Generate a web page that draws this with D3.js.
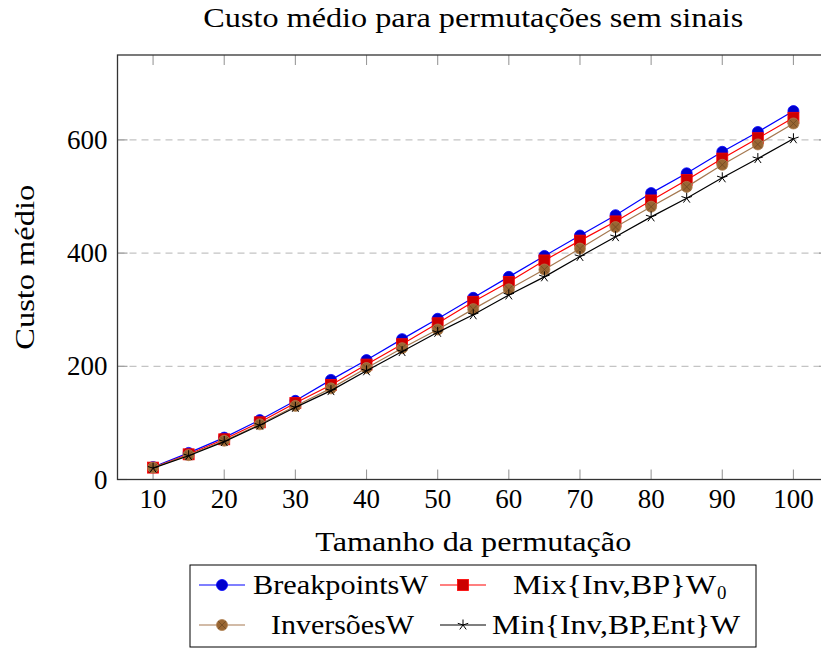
<!DOCTYPE html>
<html>
<head>
<meta charset="utf-8">
<script src="https://cdn.jsdelivr.net/npm/d3@7"></script>
<style>
  html, body { margin: 0; padding: 0; background: #fff; }
  text { font-family: "Liberation Serif", "DejaVu Serif", serif; fill: #000; }
</style>
</head>
<body>
<svg id="chart" width="821" height="651"></svg>
<script>
// Permutation sizes (x axis)
const sizes = [10, 15, 20, 25, 30, 35, 40, 45, 50, 55, 60, 65, 70, 75, 80, 85, 90, 95, 100];

// Average cost per algorithm
const breakpointsW = [22, 47, 74, 105, 139, 176, 211, 248, 284, 321, 358, 395, 431, 467, 506, 541, 579, 614, 651];
const mixInvBpW0   = [21, 44.5, 71, 101, 135, 167, 203, 239, 276, 314, 349, 387, 422, 456, 493, 529, 567, 603, 639];
const inversoesW   = [21, 43, 68.5, 97.5, 130, 161, 197, 232, 265, 301, 336, 371, 408, 446, 482, 517, 556, 592, 629];
const minInvBpEntW = [20, 42, 67, 96, 127.5, 157, 192, 226, 260, 291, 326, 358, 394, 429, 464, 497, 533, 567, 602];

// Tick labels
const xTicks = [10, 20, 30, 40, 50, 60, 70, 80, 90, 100];
const yTicks = [0, 200, 400, 600];

const title = "Custo médio para permutações sem sinais";
const xLabel = "Tamanho da permutação";
const yLabel = "Custo médio";

const series = [
  { name: "BreakpointsW", values: breakpointsW, line: "#0000ff", fill: "#0000cc", mark: "circle", tx: 253, tw: 175 },
  { name: "Mix{Inv,BP}W", sub: "0", values: mixInvBpW0, line: "#ff0000", fill: "#cc0000", mark: "square", tx: 513, tw: 203 },
  { name: "InversõesW", values: inversoesW, line: "#a57850", fill: "#996633", mark: "otimes", tx: 271, tw: 143 },
  { name: "Min{Inv,BP,Ent}W", values: minInvBpEntW, line: "#000000", fill: "#000000", mark: "star", tx: 492, tw: 248 }
];

const svg = d3.select("#chart");
const plot = { left: 117.5, right: 829, top: 55, bottom: 479.5 };

const x = d3.scaleLinear().domain([5, 105]).range([plot.left, plot.right]);
const y = d3.scaleLinear().domain([0, 750]).range([plot.bottom, plot.top]);

const fontSize = 27;

// Dashed horizontal grid
svg.append("g").selectAll("line")
  .data(yTicks.filter(d => d > 0))
  .join("line")
  .attr("x1", plot.left).attr("x2", plot.right)
  .attr("y1", d => y(d)).attr("y2", d => y(d))
  .attr("stroke", "#c4c4c4").attr("stroke-width", 1.2)
  .attr("stroke-dasharray", "7,5");

// Inner ticks on bottom, top and left
const tickLen = 10;
const tickColor = "#9a9a9a";
const tg = svg.append("g").attr("stroke", tickColor).attr("stroke-width", 1.1);
xTicks.forEach(t => {
  tg.append("line").attr("x1", x(t)).attr("x2", x(t)).attr("y1", plot.bottom).attr("y2", plot.bottom - tickLen);
  tg.append("line").attr("x1", x(t)).attr("x2", x(t)).attr("y1", plot.top).attr("y2", plot.top + tickLen);
});
yTicks.forEach(t => {
  tg.append("line").attr("x1", plot.left).attr("x2", plot.left + tickLen).attr("y1", y(t)).attr("y2", y(t));
  tg.append("line").attr("x1", plot.right).attr("x2", plot.right - tickLen).attr("y1", y(t)).attr("y2", y(t));
});

// Frame
svg.append("rect")
  .attr("x", plot.left).attr("y", plot.top)
  .attr("width", plot.right - plot.left).attr("height", plot.bottom - plot.top)
  .attr("fill", "none").attr("stroke", "#333").attr("stroke-width", 1.3);

// Tick labels
svg.append("g").selectAll("text")
  .data(xTicks).join("text")
  .attr("x", d => x(d)).attr("y", plot.bottom + 28)
  .attr("text-anchor", "middle").attr("font-size", fontSize)
  .text(d => d);

svg.append("g").selectAll("text")
  .data(yTicks).join("text")
  .attr("x", plot.left - 10).attr("y", d => y(d) + 9)
  .attr("text-anchor", "end").attr("font-size", fontSize)
  .text(d => d);

// Title and axis labels
svg.append("text")
  .attr("x", (plot.left + plot.right) / 2).attr("y", 27)
  .attr("text-anchor", "middle").attr("font-size", fontSize)
  .attr("textLength", 540).attr("lengthAdjust", "spacingAndGlyphs")
  .text(title);

svg.append("text")
  .attr("x", (plot.left + plot.right) / 2).attr("y", 551)
  .attr("text-anchor", "middle").attr("font-size", fontSize)
  .attr("textLength", 316).attr("lengthAdjust", "spacingAndGlyphs")
  .text(xLabel);

svg.append("text")
  .attr("transform", `translate(34, ${(plot.top + plot.bottom) / 2}) rotate(-90)`)
  .attr("text-anchor", "middle").attr("font-size", fontSize)
  .attr("textLength", 165).attr("lengthAdjust", "spacingAndGlyphs")
  .text(yLabel);

// Marker drawing
function drawMark(g, s, cx, cy) {
  const r = 5.5;
  if (s.mark === "circle") {
    g.append("circle").attr("cx", cx).attr("cy", cy).attr("r", r)
      .attr("fill", s.fill).attr("stroke", s.line).attr("stroke-width", 0.8);
  } else if (s.mark === "square") {
    g.append("rect").attr("x", cx - r).attr("y", cy - r).attr("width", 2 * r).attr("height", 2 * r)
      .attr("fill", s.fill).attr("stroke", s.line).attr("stroke-width", 0.8);
  } else if (s.mark === "otimes") {
    g.append("circle").attr("cx", cx).attr("cy", cy).attr("r", r)
      .attr("fill", s.fill).attr("stroke", "#b08050").attr("stroke-width", 0.8);
    const d = r * Math.SQRT1_2;
    g.append("path")
      .attr("d", `M${cx - d},${cy - d}L${cx + d},${cy + d}M${cx - d},${cy + d}L${cx + d},${cy - d}`)
      .attr("stroke", "#6a4520").attr("stroke-width", 0.7);
  } else if (s.mark === "star") {
    let p = "";
    for (let k = 0; k < 5; k++) {
      const a = -Math.PI / 2 + k * 2 * Math.PI / 5;
      p += `M${cx},${cy}L${cx + r * Math.cos(a)},${cy + r * Math.sin(a)}`;
    }
    g.append("path").attr("d", p).attr("stroke", "#000").attr("stroke-width", 1);
  }
}

// Series: line then markers, drawn in order so later series sit on top
const lineGen = d3.line().x(d => x(d[0])).y(d => y(d[1]));
series.forEach(s => {
  const pts = sizes.map((v, i) => [v, s.values[i]]);
  const g = svg.append("g");
  g.append("path").datum(pts).attr("d", lineGen)
    .attr("fill", "none").attr("stroke", s.line).attr("stroke-width", 1.2);
  pts.forEach(p => drawMark(g, s, x(p[0]), y(p[1])));
});

// Legend
const legend = svg.append("g");
legend.append("rect")
  .attr("x", 190).attr("y", 565).attr("width", 566).attr("height", 82)
  .attr("fill", "#fff").attr("stroke", "#000").attr("stroke-width", 1);

const cols = [
  { lx1: 199, lx2: 245 },
  { lx1: 440, lx2: 486 }
];
const rows = [585, 625];
series.forEach((s, i) => {
  const c = cols[i % 2];
  const ry = rows[Math.floor(i / 2)];
  legend.append("line").attr("x1", c.lx1).attr("x2", c.lx2).attr("y1", ry).attr("y2", ry)
    .attr("stroke", s.line).attr("stroke-width", 1.2);
  drawMark(legend, s, (c.lx1 + c.lx2) / 2, ry);
  legend.append("text").attr("x", s.tx).attr("y", ry + 9)
    .attr("font-size", fontSize)
    .attr("textLength", s.tw).attr("lengthAdjust", "spacingAndGlyphs")
    .text(s.name);
  if (s.sub) {
    legend.append("text").attr("x", s.tx + s.tw + 1).attr("y", ry + 14)
      .attr("font-size", fontSize * 0.7).text(s.sub);
  }
});
</script>
</body>
</html>
